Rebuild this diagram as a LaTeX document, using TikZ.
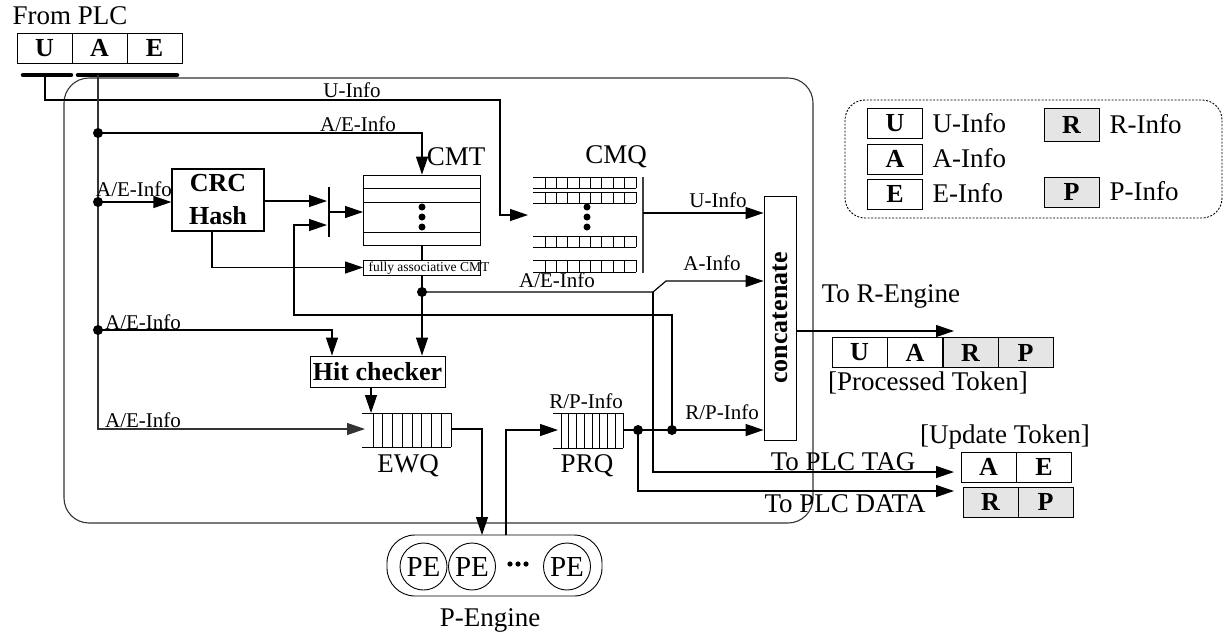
\documentclass[tikz,border=0pt]{standalone}
\usepackage{fontspec}
\setmainfont{Liberation Serif}
\usetikzlibrary{arrows.meta,calc}
\definecolor{tokgray}{gray}{0.9}
\begin{document}
\begin{tikzpicture}[x=1pt,y=-1pt,
  line width=1.2pt,
  >={Triangle[length=18pt,width=12pt]},
  lab/.style={font=\fontsize{21}{24}\selectfont, inner sep=0pt},
  big/.style={font=\fontsize{27}{30}\selectfont, inner sep=0pt},
  bbig/.style={font=\fontsize{26}{33}\selectfont\bfseries, inner sep=0pt},
  cell/.style={draw, line width=0.9pt, minimum width=55pt, minimum height=30pt, inner sep=0pt, font=\fontsize{26}{29}\selectfont\bfseries},
  gcell/.style={cell, fill=tokgray},
  dot/.style={circle, fill, inner sep=0pt, minimum size=10pt},
  thin/.style={line width=0.9pt},
  pecirc/.style={circle, draw, thin, minimum size=47pt, inner sep=0pt, font=\fontsize{29}{30}\selectfont}
]
\useasboundingbox (0,0) rectangle (1225,633);

% ---------- main frame ----------
\draw[rounded corners=25pt, line width=1.1pt, black!80] (64,78) rectangle (813,523);

% ---------- From PLC ----------
\node[big] (fromplc) at (70,16) {From PLC};
\node[cell] (tU) at (44.5,48) {U};
\node[cell] (tA) at (99.5,48) {A};
\node[cell] (tE) at (154.5,48) {E};
\coordinate (barUl) at (23,75); \coordinate (barUr) at (71,75);
\coordinate (barAl) at (78,75); \coordinate (barAr) at (177,75);
\draw[line width=4.5pt, line cap=round] (barUl) -- (barUr);
\draw[line width=4.5pt, line cap=round] (barAl) -- (barAr);

% ---------- blocks ----------
\node[draw, minimum width=92pt, minimum height=62pt, align=center, bbig] (crc) at (218,200) {CRC\\Hash};
\node[draw, thin, minimum width=117pt, minimum height=70pt, inner sep=0pt] (cmt) at (422,210) {};
\foreach \yy in {188,202,232} \draw[thin] (cmt.west |- 0,\yy) -- (cmt.east |- 0,\yy);
\foreach \yy in {207,217,227} \fill (422,\yy) circle (3.5pt);
\node[draw, thin, minimum width=117pt, minimum height=15pt, inner sep=0pt] (fa) at (422,267.5) {};
\node[font=\fontsize{13.5}{15}\selectfont, inner sep=0pt, anchor=west] (falab) at (368,268) {fully associative CMT};
\node[big] (cmtlab) at (456,157) {CMT};

% mux
\coordinate (muxT) at (329,187); \coordinate (muxB) at (329,237);
\draw (muxT) -- (muxB);
\coordinate (mux1) at (327,201); \coordinate (mux2) at (327,225); \coordinate (muxout) at (329,212);

% CMQ
\foreach \ya/\yb in {177/188,192/203,236/247,260/272} {
  \draw[thin] (533,\ya) -- (636,\ya) (533,\yb) -- (636,\yb);
  \foreach \i in {0,...,8} \draw[thin] ({545+\i*11.375},\ya) -- ({545+\i*11.375},\yb);
}
\foreach \yy in {207,217,227} \fill (587,\yy) circle (3.5pt);
\coordinate (cmqT) at (643,177); \coordinate (cmqB) at (643,273);
\draw[black!75, line width=1.4pt] (cmqT) -- (cmqB);
\coordinate (cmqout) at (643,213);
\coordinate (cmqin) at (528,215);
\node[big] (cmqlab) at (616,157) {CMQ};

% concatenate
\node[draw, thin, minimum width=32pt, minimum height=244pt, inner sep=0pt] (concat) at (780,318) {};
\node[bbig, rotate=90] (concatlab) at (concat) {concatenate};

% Hit checker
\node[draw, thin, minimum width=135pt, minimum height=31pt, bbig] (hit) at (377.5,371.5) {Hit checker};

% EWQ
\draw[thin] (362,413) -- (451,413) (362,447) -- (451,447);
\foreach \i in {0,...,8} \draw[thin] ({373+\i*9.75},413) -- ({373+\i*9.75},447);
\node[big] (ewqlab) at (408,466) {EWQ};
\coordinate (ewqin) at (365,429); \coordinate (ewqtop) at (371,413); \coordinate (ewqout) at (451,429);

% PRQ
\draw[thin] (553,413) -- (623,413) (553,448) -- (623,448);
\foreach \i in {0,...,8} \draw[thin] ({561+\i*7.75},413) -- ({561+\i*7.75},448);
\node[big] (prqlab) at (587,466) {PRQ};
\node[lab] (rplab1) at (586,401) {R/P-Info};
\coordinate (prqin) at (558,430); \coordinate (prqout) at (623,430);

% P-Engine
\node[draw, thin, rounded corners=28pt, minimum width=215pt, minimum height=61pt] (pebox) at (494.5,565.5) {};
\node[pecirc] (pe1) at (423.5,566.5) {PE};
\node[pecirc] (pe2) at (472,566.5) {PE};
\node[pecirc] (pe3) at (567,566.5) {PE};
\foreach \xx in {510,518,526} \fill (\xx,564) circle (2.6pt);
\node[big] (pelab) at (490,620) {P-Engine};
\coordinate (pein) at (482,535); \coordinate (peout) at (506,535);

% ---------- connectors ----------
\coordinate (ubar) at (45,75); \coordinate (u1) at (500,100);
\draw[->] (ubar) |- (u1) |- (cmqin);
\node[lab] (ulab1) at (352,90) {U-Info};

\coordinate (aebar) at (98,75);
\coordinate (d1) at (98,133); \coordinate (d2) at (98,202); \coordinate (d3) at (98,330);
\draw[->, black!80] (aebar) |- (ewqin);
\node[dot] (dd1) at (d1) {}; \node[dot] (dd2) at (d2) {}; \node[dot] (dd3) at (d3) {};
\node[lab] (aelab5) at (143,420) {A/E-Info};

\draw[->] (d1) -| (cmt.north);
\node[lab] (aelab1) at (358,124) {A/E-Info};

\draw[->] (d2) -- (crc.west |- d2);
\node[lab] (aelab2) at (134,189) {A/E-Info};

\draw[->] (crc.east |- mux1) -- (mux1);
\draw[->] (muxout) -- (cmt.west |- muxout);
\coordinate (crcb) at ($(crc.south)+(-6,0)$);
\draw[->] (crcb) |- (fa.west);

\draw (cmt.south) -- (fa.north);
\coordinate (d4) at (422,292);
\draw[->] (fa.south) -- (fa.south |- hit.north);
\node[dot] (dd4) at (d4) {};

\coordinate (j1) at (653,292); \coordinate (j2) at (666,281);
\draw[->] (d4) -- (j1) -- (j2) -- (concat.west |- j2);
\node[lab] (aelab3) at (557,280) {A/E-Info};
\node[lab] (alab) at (712,263) {A-Info};

\coordinate (tagin) at (954,472);
\draw[->] (j1) |- (tagin);
\node[big] (taglab) at (843,462) {To PLC TAG};

\draw[->] (cmqout) -- (concat.west |- cmqout);
\node[lab] (ulab2) at (718,200) {U-Info};

\coordinate (hitin) at ($(hit.north)+(-45.5,0)$);
\draw[->] (d3) -| (hitin);
\node[lab] (aelab4) at (143,322) {A/E-Info};

\draw[->] (hit.south -| ewqtop) -- (ewqtop);
\draw[->] (ewqout) -| (pein);
\draw[->] (peout) |- (prqin);

\coordinate (dA) at (638,430); \coordinate (fb1) at (672,430);
\draw[->] (prqout) -- (concat.west |- prqout);
\node[lab] (rplab2) at (722,412) {R/P-Info};
\coordinate (fbA) at (672,315); \coordinate (fbB) at (294,315);
\draw[->] (fb1) -- (fbA) -- (fbB) |- (mux2);
\coordinate (datain) at (954,491);
\draw[->] (dA) |- (datain);
\node[dot] (ddA) at (dA) {}; \node[dot] (ddB) at (fb1) {};
\node[big] (datalab) at (845,504) {To PLC DATA};

\coordinate (rout) at (954,331);
\draw[->] (concat.east |- rout) -- (rout);
\node[big] (rlab) at (891,296) {To R-Engine};

% ---------- tokens ----------
\node[cell] (pU) at (859.5,352.5) {U};
\node[cell] (pA) at (915,352.5) {A};
\node[gcell] (pR) at (970.5,352.5) {R};
\node[gcell] (pP) at (1025.5,352.5) {P};
\node[big] (proclab) at (928,383) {[Processed Token]};

\node[big] (updlab) at (1005,437) {[Update Token]};
\node[cell] (uA) at (988.5,467) {A};
\node[cell] (uE) at (1044,467) {E};
\node[gcell] (uR) at (990.5,502) {R};
\node[gcell] (uP) at (1045.5,502) {P};

% ---------- legend ----------
\draw[thin, dash pattern=on 2pt off 1.5pt, rounded corners=20pt] (845,100) rectangle (1222,218);
\node[cell] (lU) at (895,123) {U};
\node[cell] (lA) at (895,159) {A};
\node[cell] (lE) at (895,194) {E};
\node[gcell, minimum height=33pt] (lR) at (1071.5,125) {R};
\node[gcell] (lP) at (1071.5,192) {P};
\node[big, anchor=west] (lUt) at (932,123) {U-Info};
\node[big, anchor=west] (lAt) at (932,158) {A-Info};
\node[big, anchor=west] (lEt) at (932,193) {E-Info};
\node[big, anchor=west] (lRt) at (1109,124) {R-Info};
\node[big, anchor=west] (lPt) at (1109,191) {P-Info};
\end{tikzpicture}
\end{document}
